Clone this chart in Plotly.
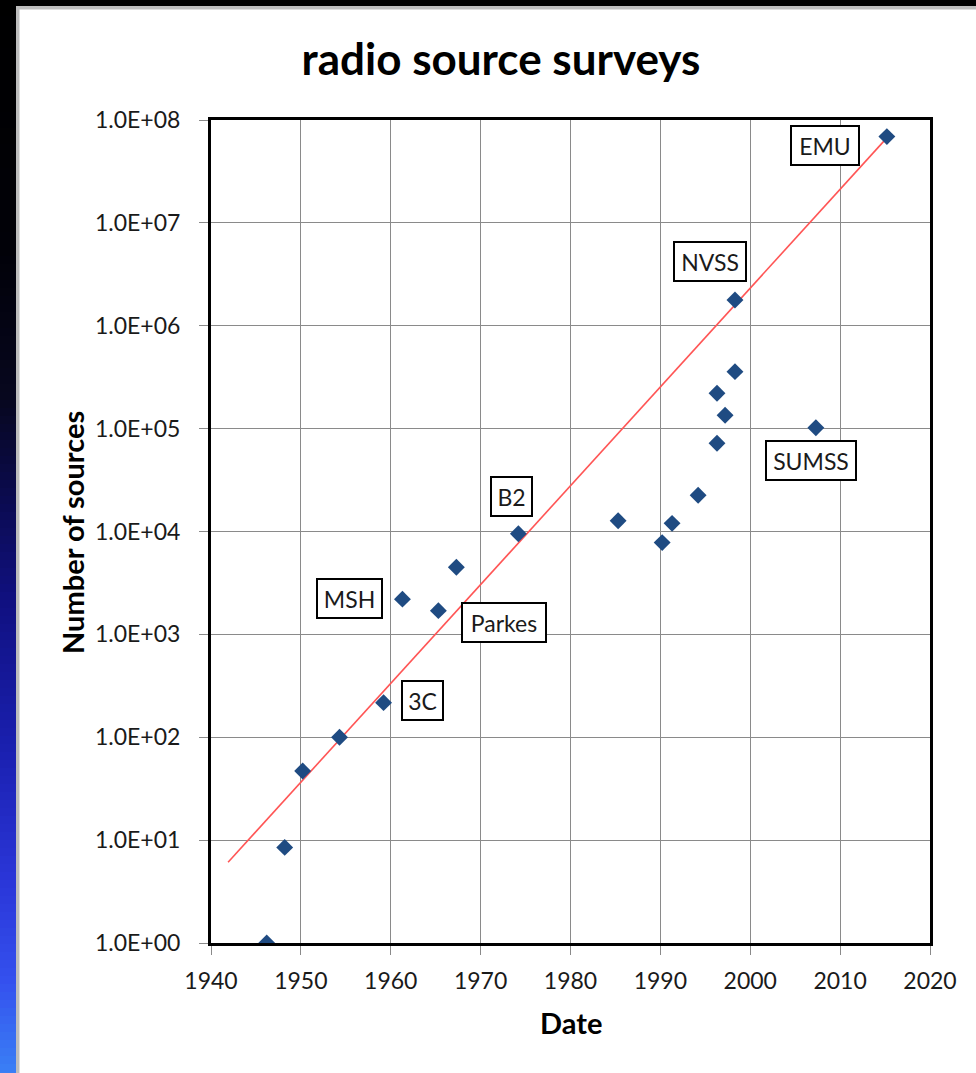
import plotly.graph_objects as go

# Survey dates (decimal years) and number of catalogued sources
years = [1946.2, 1948.2, 1950.2, 1954.3, 1959.2, 1961.3, 1965.3, 1967.3, 1974.2,
         1985.3, 1990.2, 1991.3, 1994.2, 1996.3, 1997.2, 1996.3, 1998.3, 1998.3,
         2007.3, 2015.2]
sources = [1.0, 8.5, 47, 100, 217, 2200, 1700, 4500, 9500,
           12700, 7800, 12000, 22500, 72000, 135000, 221000, 358000, 1.78e6,
           1.02e5, 6.9e7]

# Exponential trend line end points
trend_years = [1941.9, 2015.2]
trend_sources = [6.1, 6.7e7]

# Survey names
survey_names = ["EMU", "NVSS", "SUMSS", "B2", "MSH", "Parkes", "3C"]

# Axis tick labels
y_tickvals = [1e0, 1e1, 1e2, 1e3, 1e4, 1e5, 1e6, 1e7, 1e8]
y_ticktext = ["1.0E+00", "1.0E+01", "1.0E+02", "1.0E+03", "1.0E+04",
              "1.0E+05", "1.0E+06", "1.0E+07", "1.0E+08"]
x_tickvals = [1940, 1950, 1960, 1970, 1980, 1990, 2000, 2010, 2020]

W, H = 976, 1073
ML, MR, MT, MB = 211, 46, 120, 130
PW, PH = W - ML - MR, H - MT - MB


def px(x):
    return (x - ML) / PW


def py(y):
    return (H - MB - y) / PH


FONT = "Lato"

fig = go.Figure()

fig.add_trace(go.Scatter(
    x=trend_years, y=trend_sources, mode="lines",
    line=dict(color="#ff5555", width=1.6), hoverinfo="skip", showlegend=False,
))
fig.add_trace(go.Scatter(
    x=years, y=sources, mode="markers",
    marker=dict(symbol="diamond", size=13, color="#1f4b82"),
    showlegend=False,
))

# Boxed survey labels: (year, log10 position, box width)
label_pos = {
    "EMU": (2008.3, 7.75, 58),
    "NVSS": (1995.5, 6.62, 62),
    "SUMSS": (2006.8, 4.69, 80),
    "B2": (1973.4, 4.34, 31),
    "MSH": (1955.4, 3.345, 55),
    "Parkes": (1972.6, 3.12, 74),
    "3C": (1963.5, 2.36, 31),
}
for name in survey_names:
    lx, ly, bw = label_pos[name]
    fig.add_annotation(
        x=lx, y=ly, xref="x", yref="y", text=name, showarrow=False,
        xanchor="center", yanchor="middle", width=bw, height=29,
        font=dict(family=FONT, size=23, color="#1a1a1a"),
        bgcolor="white", bordercolor="black", borderwidth=2, borderpad=4,
    )

# Axis titles
fig.add_annotation(
    x=px(571), y=py(1022), xref="paper", yref="paper", text="<b>Date</b>",
    showarrow=False, xanchor="center", yanchor="middle",
    font=dict(family=FONT, size=29, color="black"),
)
fig.add_annotation(
    x=px(72), y=py(533), xref="paper", yref="paper", text="<b>Number of sources</b>",
    showarrow=False, textangle=-90, xanchor="center", yanchor="middle",
    font=dict(family=FONT, size=29, color="black"),
)

# Slide background: dark top band, gradient strip on the left, grey frame
shapes = []
shapes.append(dict(type="rect", xref="paper", yref="paper", x0=px(0), x1=px(W),
                   y0=py(0), y1=py(6), fillcolor="black", line=dict(width=0),
                   layer="below"))
stops = [(0, (0, 0, 0)), (250, (1, 1, 8)), (400, (7, 7, 31)), (500, (11, 11, 80)),
         (600, (16, 16, 128)), (750, (26, 32, 176)), (880, (42, 54, 216)),
         (980, (52, 80, 238)), (1073, (58, 128, 245))]


def strip_color(y):
    for (y0, c0), (y1, c1) in zip(stops[:-1], stops[1:]):
        if y0 <= y <= y1:
            t = (y - y0) / (y1 - y0)
            return "rgb(%d,%d,%d)" % tuple(round(a + (b - a) * t) for a, b in zip(c0, c1))
    return "rgb(%d,%d,%d)" % stops[-1][1]


band = 8
for y in range(0, H, band):
    shapes.append(dict(type="rect", xref="paper", yref="paper", x0=px(0), x1=px(16),
                       y0=py(y), y1=py(min(y + band, H)),
                       fillcolor=strip_color(y + band / 2), line=dict(width=0),
                       layer="below"))
shapes.append(dict(type="rect", xref="paper", yref="paper", x0=px(16), x1=px(19.5),
                   y0=py(6), y1=py(H), fillcolor="#bdbdbd", line=dict(width=0),
                   layer="below"))
shapes.append(dict(type="rect", xref="paper", yref="paper", x0=px(16), x1=px(W),
                   y0=py(6), y1=py(9.5), fillcolor="#bdbdbd", line=dict(width=0),
                   layer="below"))

fig.update_layout(
    width=W, height=H,
    margin=dict(l=ML, r=MR, t=MT, b=MB),
    paper_bgcolor="white", plot_bgcolor="white",
    font=dict(family=FONT, color="#1a1a1a"),
    title=dict(text="<b>radio source surveys</b>", x=501 / W, xref="container",
               xanchor="center", y=1 - 60 / H, yanchor="middle",
               font=dict(family=FONT, size=44, color="black")),
    shapes=shapes,
    showlegend=False,
)

fig.update_xaxes(
    range=[1940, 2020], tickvals=x_tickvals,
    showgrid=True, gridcolor="#8a8a8a", gridwidth=1.4,
    showline=True, linecolor="black", linewidth=3, mirror=True,
    ticks="outside", ticklen=9, tickcolor="#8a8a8a", tickwidth=1.4,
    ticklabelstandoff=6,
    tickfont=dict(family=FONT, size=23, color="#1a1a1a"),
    zeroline=False,
)
fig.update_yaxes(
    type="log", range=[0, 8], tickvals=y_tickvals, ticktext=y_ticktext,
    showgrid=True, gridcolor="#8a8a8a", gridwidth=1.4,
    showline=True, linecolor="black", linewidth=3, mirror=True,
    ticks="outside", ticklen=9, tickcolor="#8a8a8a", tickwidth=1.4,
    ticklabelstandoff=14,
    tickfont=dict(family=FONT, size=23, color="#1a1a1a"),
    zeroline=False,
)

fig.write_html("out.html")
